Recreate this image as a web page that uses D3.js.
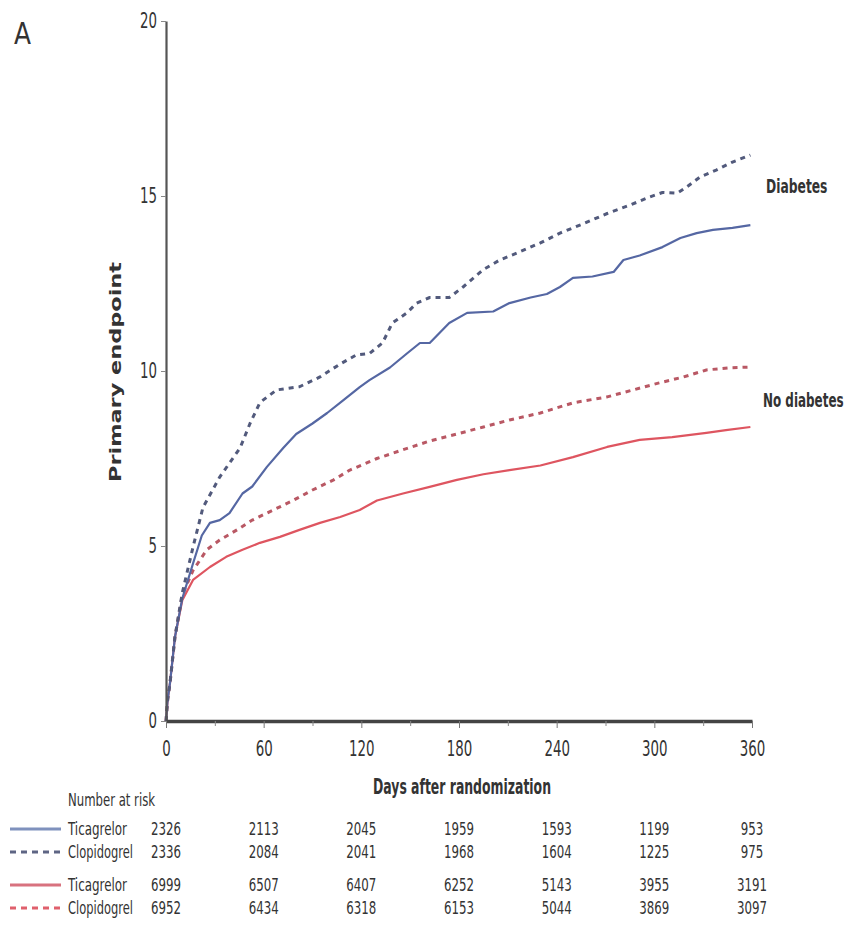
<!DOCTYPE html>
<html>
<head>
<meta charset="utf-8">
<script src="https://cdn.jsdelivr.net/npm/d3@7"></script>
<style>
  body { margin: 0; background: #fff; }
  svg { display: block; }
  text { font-family: "Liberation Sans Narrow", "Arial Narrow", "DejaVu Sans Condensed", sans-serif; fill: #333; }
</style>
</head>
<body>
<svg id="chart" width="853" height="946"></svg>
<script>
// [day, percent]
const diabTica = [[0,0],[1,0.6],[2.5,1.1],[5.5,2.4],[10,3.5],[16.6,4.5],[22,5.3],[27,5.66],[33,5.74],[39,5.94],[47,6.5],[53,6.7],[62,7.26],[72,7.8],[80,8.2],[90,8.5],[99,8.8],[109,9.17],[119,9.54],[125,9.74],[137.6,10.1],[148,10.5],[156,10.8],[162,10.8],[174,11.37],[185,11.66],[201,11.7],[211,11.94],[224,12.1],[234,12.2],[242,12.4],[250,12.66],[262,12.7],[275,12.83],[281,13.17],[291,13.3],[305,13.54],[316,13.8],[326,13.94],[336,14.03],[348,14.09],[359,14.17]]
const diabClop = [[0,0],[1,0.6],[2.5,1.1],[5.5,2.4],[10,3.66],[16.6,4.97],[22.7,6.1],[33,6.97],[45.5,7.8],[51.6,8.5],[57.7,9.1],[68,9.46],[82,9.55],[94.6,9.83],[107,10.2],[117,10.46],[125,10.5],[133,10.8],[139,11.37],[148,11.66],[154,11.94],[162,12.1],[174,12.1],[182.5,12.4],[195,12.9],[205,13.17],[215.6,13.37],[230,13.66],[242,13.94],[256,14.2],[271,14.5],[285,14.74],[297,14.97],[305,15.1],[314,15.08],[320,15.26],[328,15.54],[338,15.74],[348,15.97],[359,16.17]]
const noDiabClop = [[0,0],[1,0.6],[2.5,1.1],[5.5,2.4],[10,3.6],[16.6,4.3],[25,4.89],[33,5.17],[43.6,5.46],[53,5.74],[66,6.03],[78,6.3],[90,6.6],[103,6.89],[113,7.17],[129.6,7.5],[145.6,7.75],[162,8.0],[178.7,8.2],[195,8.4],[211,8.6],[230,8.8],[250,9.09],[271,9.26],[287,9.46],[303,9.66],[318,9.83],[332,10.03],[346,10.09],[358,10.11]]
const noDiabTica = [[0,0],[1,0.6],[2.5,1.1],[5.5,2.4],[10,3.45],[16.6,4.03],[27,4.4],[37,4.69],[47,4.89],[57.7,5.09],[70,5.26],[82,5.46],[94.6,5.66],[107,5.83],[119,6.03],[129.6,6.3],[145.6,6.5],[162,6.69],[178.7,6.89],[195,7.05],[211,7.17],[230,7.3],[250,7.54],[271,7.83],[291,8.03],[311,8.11],[332,8.23],[344,8.31],[359,8.4]]

// number at risk table
const riskDays = [0, 60, 120, 180, 240, 300, 360]
const diabTicaRisk = [2326, 2113, 2045, 1959, 1593, 1199, 953]
const diabClopRisk = [2336, 2084, 2041, 1968, 1604, 1225, 975]
const noDiabTicaRisk = [6999, 6507, 6407, 6252, 5143, 3955, 3191]
const noDiabClopRisk = [6952, 6434, 6318, 6153, 5044, 3869, 3097]

const xTicks = [0, 60, 120, 180, 240, 300, 360]
const xMinor = [30, 90, 150, 210, 270, 330]
const yTicks = [0, 5, 10, 15, 20]

const svg = d3.select('#chart')

const x = d3.scaleLinear().domain([0, 360]).range([166, 752])
const y = d3.scaleLinear().domain([0, 20]).range([721, 21])

// squeeze text to look like the condensed face in the original
function narrow(sel, perChar) {
    sel.attr('textLength', function () { return this.textContent.length * perChar })
        .attr('lengthAdjust', 'spacingAndGlyphs')
}

// curves
const line = d3.line().x(d => x(d[0])).y(d => y(d[1]))

const series = [
    {data: noDiabTica, color: '#de5560', dash: null, width: 2.2},
    {data: noDiabClop, color: '#b95864', dash: '5,5', width: 3},
    {data: diabTica, color: '#5567a3', dash: null, width: 2.2},
    {data: diabClop, color: '#525a7c', dash: '5,5', width: 3}
]

svg.append('g')
    .selectAll('path')
    .data(series)
    .join('path')
    .attr('fill', 'none')
    .attr('stroke', d => d.color)
    .attr('stroke-width', d => d.width)
    .attr('stroke-dasharray', d => d.dash)
    .attr('stroke-linejoin', 'round')
    .attr('d', d => line(d.data))

// y axis
const yAxis = svg.append('g')
    .attr('transform', `translate(${x(0)},0)`)
    .call(d3.axisLeft(y).tickValues(yTicks).tickSize(5).tickSizeOuter(0))
yAxis.select('.domain').attr('stroke', '#555').attr('stroke-width', 2.2)
yAxis.selectAll('.tick line').attr('stroke', '#888')
yAxis.selectAll('.tick text').attr('font-size', 21).attr('fill', '#333').attr('x', -9).call(narrow, 8.5)

// x axis
const xAxis = svg.append('g')
    .attr('transform', `translate(0,${y(0)})`)
    .call(d3.axisBottom(x).tickValues(xTicks).tickSize(7).tickSizeOuter(0))
xAxis.select('.domain').attr('stroke', '#444').attr('stroke-width', 3.5)
xAxis.selectAll('.tick line').attr('stroke', '#777')
xAxis.selectAll('.tick text').attr('font-size', 21).attr('fill', '#333').attr('y', 20).call(narrow, 8.5)

svg.append('g')
    .attr('transform', `translate(0,${y(0)})`)
    .call(d3.axisBottom(x).tickValues(xMinor).tickSize(5).tickFormat(''))
    .call(g => g.select('.domain').remove())
    .selectAll('.tick line').attr('stroke', '#888')

// titles
svg.append('text')
    .attr('x', 14).attr('y', 44)
    .attr('font-size', 30)
    .attr('textLength', 17)
    .attr('lengthAdjust', 'spacingAndGlyphs')
    .text('A')

svg.append('text')
    .attr('transform', 'translate(121,372) rotate(-90)')
    .attr('text-anchor', 'middle')
    .attr('font-size', 15)
    .attr('font-weight', 'bold')
    .style('font-family', '"DejaVu Sans", sans-serif')
    .attr('textLength', 220)
    .attr('lengthAdjust', 'spacingAndGlyphs')
    .text('Primary endpoint')

svg.append('text')
    .attr('x', 373).attr('y', 794)
    .attr('font-size', 21)
    .attr('font-weight', 'bold')
    .attr('textLength', 178)
    .attr('lengthAdjust', 'spacingAndGlyphs')
    .text('Days after randomization')

// group labels, squeezed horizontally with a scale
svg.append('text')
    .attr('transform', 'translate(766,193) scale(0.72,1)')
    .attr('font-size', 19)
    .attr('font-weight', 'bold')
    .text('Diabetes')

svg.append('text')
    .attr('transform', 'translate(763,407) scale(0.7,1)')
    .attr('font-size', 19)
    .attr('font-weight', 'bold')
    .text('No diabetes')

// number at risk
svg.append('text')
    .attr('x', 68).attr('y', 806)
    .attr('font-size', 17)
    .attr('textLength', 87)
    .attr('lengthAdjust', 'spacingAndGlyphs')
    .text('Number at risk')

const rows = [
    {label: 'Ticagrelor', values: diabTicaRisk, color: '#7f91bd', dash: null, y: 835},
    {label: 'Clopidogrel', values: diabClopRisk, color: '#5e6584', dash: '6,5', y: 858},
    {label: 'Ticagrelor', values: noDiabTicaRisk, color: '#d8727f', dash: null, y: 891},
    {label: 'Clopidogrel', values: noDiabClopRisk, color: '#e0606c', dash: '6,5', y: 914}
]

const rowG = svg.append('g')
    .selectAll('g')
    .data(rows)
    .join('g')
    .attr('transform', d => `translate(0,${d.y})`)

rowG.append('line')
    .attr('x1', 10).attr('x2', 61)
    .attr('y1', -6).attr('y2', -6)
    .attr('stroke', d => d.color)
    .attr('stroke-width', 3)
    .attr('stroke-dasharray', d => d.dash)

rowG.append('text')
    .attr('x', 68)
    .attr('font-size', 17)
    .attr('fill', '#555')
    .text(d => d.label)
    .call(narrow, 5.9)

rowG.selectAll('text.n')
    .data(d => d.values.map((v, i) => ({day: riskDays[i], v})))
    .join('text')
    .attr('class', 'n')
    .attr('x', d => x(d.day))
    .attr('text-anchor', 'middle')
    .attr('font-size', 17)
    .attr('fill', '#555')
    .text(d => d.v)
    .call(narrow, 7.5)
</script>
</body>
</html>
